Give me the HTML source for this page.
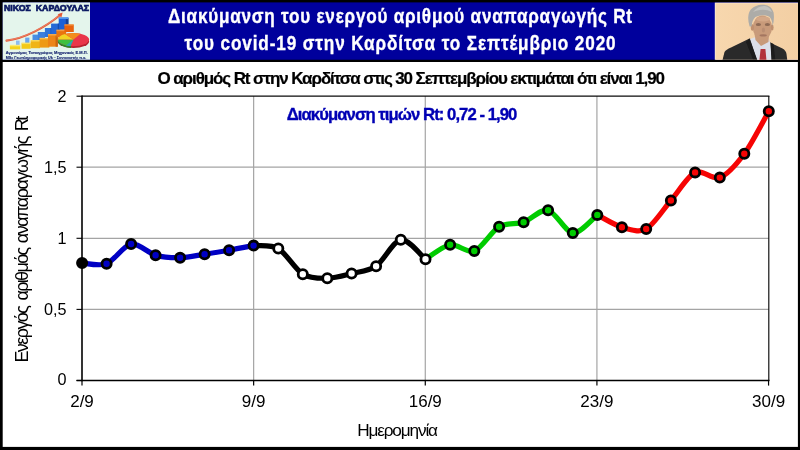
<!DOCTYPE html>
<html><head><meta charset="utf-8"><title>Rt</title>
<style>
html,body{margin:0;padding:0;background:#000;}
body{width:800px;height:450px;overflow:hidden;font-family:"Liberation Sans",sans-serif;}
svg{display:block;}
text{font-family:"Liberation Sans",sans-serif;}
</style></head><body>
<svg width="800" height="450" viewBox="0 0 800 450" style="opacity:0.999">
<rect x="0" y="0" width="800" height="450" fill="#000"/>
<!-- header -->
<rect x="2.7" y="2.4" width="795.2" height="57.35" fill="#00009c"/>
<!-- chart area -->
<rect x="2.7" y="62" width="795.2" height="384.9" fill="#fff"/>
<g id="logo">
<defs><filter id="lb" x="-5%" y="-5%" width="110%" height="110%"><feGaussianBlur stdDeviation="0.35"/></filter></defs>
<rect x="2.7" y="2.4" width="87.3" height="57.3" fill="#e4f5ec"/>
<text x="3.9" y="11.3" font-size="9.2" font-weight="bold" fill="#0a1862" stroke="#0a1862" stroke-width="0.7" textLength="85.2" lengthAdjust="spacingAndGlyphs" xml:space="preserve">ΝΙΚΟΣ  ΚΑΡΔΟΥΛΑΣ</text>
<g filter="url(#lb)">
<!-- back row blue bars -->
<rect x="16.0" y="40.6" width="3.6" height="5" fill="#8cbcf0"/>
<rect x="25.2" y="37.6" width="4.2" height="6" fill="#6aa6ec"/>
<rect x="32.5" y="34.6" width="6" height="7" fill="#4a8ee4"/>
<rect x="37.8" y="32" width="7.2" height="8" fill="#3b80de"/>
<rect x="44.9" y="28" width="8" height="9" fill="#2f74da"/>
<rect x="50.6" y="28" width="2.3" height="9" fill="#1c4fb0"/>
<rect x="51.1" y="23.6" width="9" height="10.5" fill="#2668d6"/>
<rect x="57.8" y="23.6" width="2.3" height="10.5" fill="#18469e"/>
<rect x="58.7" y="17.8" width="9.7" height="12" fill="#1f60d6"/>
<rect x="65.8" y="17.8" width="2.6" height="12" fill="#163f96"/>
<rect x="58.7" y="17.2" width="9.7" height="1.8" fill="#4f94ee"/>
<!-- front row bars -->
<rect x="9.9" y="45.6" width="10.4" height="3.8" fill="#f4d41a"/>
<rect x="9.9" y="44.8" width="10.4" height="1.5" fill="#fbea72"/>
<rect x="21.5" y="43.4" width="9.2" height="5.4" fill="#f3ca18"/>
<rect x="21.5" y="42.6" width="9.2" height="1.5" fill="#fae264"/>
<rect x="30.7" y="40.8" width="9.3" height="7.4" fill="#f0b416"/>
<rect x="30.7" y="40" width="9.3" height="1.5" fill="#f8d65a"/>
<rect x="39.6" y="38.6" width="9.7" height="9" fill="#ee9a14"/>
<rect x="39.6" y="37.8" width="9.7" height="1.5" fill="#f6be50"/>
<rect x="48" y="34.8" width="9.8" height="11.9" fill="#ec8412"/>
<rect x="55.6" y="34.8" width="2.2" height="11.9" fill="#c8640a"/>
<rect x="48" y="34" width="9.8" height="1.5" fill="#f4a848"/>
<rect x="56.4" y="30.4" width="9.8" height="7" fill="#ea7410"/>
<rect x="56.4" y="29.6" width="9.8" height="1.5" fill="#f29a40"/>
<rect x="64.4" y="25" width="9.4" height="7" fill="#e8620e"/>
<rect x="64.4" y="24.2" width="9.4" height="1.5" fill="#f08a38"/>
<!-- arrow -->
<path d="M6.5 40.6 C24 38.8 46 27 60.4 14.8" fill="none" stroke="#e25a38" stroke-width="2.1" stroke-linecap="round"/>
<path d="M6.5 40.4 C24 38.6 46 26.8 60.4 14.6" fill="none" stroke="#f0907a" stroke-width="0.7" stroke-linecap="round"/>
<path d="M62.6 12.6 L57.6 14.2 L61.4 17.6 Z" fill="#e25a38"/>
<!-- pie -->
<ellipse cx="73.5" cy="41.4" rx="15.6" ry="6.6" fill="#b4202e"/>
<path d="M57.9 39.6 L57.9 41.4 A15.6 6.6 0 0 0 71 47.9 L71 46.1 Z" fill="#278a2c"/>
<ellipse cx="73.5" cy="39.6" rx="15.6" ry="6.6" fill="#e93648"/>
<path d="M73.5 39.6 L57.9 39.6 A15.6 6.6 0 0 0 70.5 46.1 Z" fill="#3cc040"/>
<path d="M73.5 39.6 L57.9 39.6 A15.6 6.6 0 0 1 65 34 Z" fill="#f2d422"/>
<path d="M73.5 39.6 L65 34 A15.6 6.6 0 0 1 80.5 33.7 Z" fill="#f28c1c"/>
<path d="M73.5 39.6 L66 45.4 A15.6 6.6 0 0 0 70.5 46.1 Z" fill="#2aa4b0"/>
</g>
<!-- small text lines -->
<text x="5.8" y="54.2" font-size="3.9" font-weight="bold" fill="#14226e" stroke="#14226e" stroke-width="0.12" font-family="Liberation Serif" textLength="82" lengthAdjust="spacingAndGlyphs">Αγρονόμος Τοπογράφος Μηχανικός Ε.Μ.Π.</text>
<text x="5.8" y="58.5" font-size="3.9" font-weight="bold" fill="#14226e" stroke="#14226e" stroke-width="0.12" font-family="Liberation Serif" textLength="80.4" lengthAdjust="spacingAndGlyphs">MSc Γεωπληροφορικής Uk – Συντονιστής π.κ.</text>
</g>
<g id="photo">
<defs>
<clipPath id="pc"><rect x="714.8" y="2.6" width="83.2" height="57.1"/></clipPath>
<filter id="pb" x="-10%" y="-10%" width="120%" height="120%"><feGaussianBlur stdDeviation="0.7"/></filter>
<linearGradient id="pbg" x1="0" y1="0" x2="1" y2="0"><stop offset="0" stop-color="#f7d7ae"/><stop offset="1" stop-color="#f3cfa4"/></linearGradient>
</defs>
<rect x="714.8" y="2.6" width="83.2" height="57.1" fill="#fbeedd"/><rect x="715.5" y="3.3" width="82.5" height="56.4" fill="url(#pbg)"/>
<g clip-path="url(#pc)"><g filter="url(#pb)">
<!-- suit -->
<path d="M722 62 L724.5 52 Q726 49.5 731 47.5 L749.5 38.5 L757 42 L768 41 L772 43.5 L782.5 48.5 Q786 50.5 786.5 54 L787.5 62 Z" fill="#2b2a2c"/>
<!-- shirt -->
<path d="M750 39 L756 37 L768 38 L770.5 43 L771.5 62 L757.5 62 Z" fill="#dcdfe9"/>
<!-- lapel shadows -->
<path d="M749.5 38.5 L758 62 L754 62 L746 42 Z" fill="#1c1b1d"/>
<path d="M770.5 42.5 L772 62 L775.5 62 L773.5 44 Z" fill="#1c1b1d"/>
<!-- tie -->
<path d="M760.6 49 L765.4 49 L766.6 62 L759.2 62 Z" fill="#b2303a"/>
<!-- neck -->
<path d="M754.5 34 L769 34 L768.5 42 L761 46 L755.5 40 Z" fill="#c89a7a"/>
<!-- face -->
<ellipse cx="762.4" cy="27.6" rx="9.6" ry="12.2" fill="#c89a7a"/>
<ellipse cx="758.4" cy="24.6" rx="2.6" ry="1.5" fill="#8e6a54"/><ellipse cx="767.4" cy="24.6" rx="2.6" ry="1.5" fill="#8e6a54"/><ellipse cx="763.4" cy="30" rx="1.6" ry="2.6" fill="#b98d72"/><ellipse cx="763" cy="19" rx="7" ry="2.6" fill="#d4a888"/>
<ellipse cx="763.2" cy="35.4" rx="3.6" ry="1.1" fill="#a47660"/>
<!-- ears -->
<ellipse cx="752.4" cy="27.5" rx="1.6" ry="3.2" fill="#c09070"/>
<ellipse cx="772.2" cy="27.5" rx="1.4" ry="3" fill="#c09070"/>
<!-- hair -->
<path d="M749.6 26.4 Q746.2 15 751 9.2 Q756.6 3.8 764 4.8 Q771.6 5.6 773.6 12.4 Q774.6 20 772.6 26 Q772.4 19 769 16.4 Q762 13.6 755.4 17 Q752 20 751.6 26.4 Z" fill="#adaca8"/>
<path d="M753 12 Q758 5.5 765 6 Q770 7 772 12 Q766 9 760 10 Q756 10.6 753 12 Z" fill="#c4c3bf"/>
</g></g>
</g>

<g fill="#fff" font-weight="bold" font-size="20.2" stroke="#fff" stroke-width="0.35">
<text transform="translate(168 23.1) scale(0.85 1)" textLength="545.9" lengthAdjust="spacing">Διακύμανση του ενεργού αριθμού αναπαραγωγής Rt</text>
<text transform="translate(184.6 50.1) scale(0.85 1)" textLength="507.1" lengthAdjust="spacing">του covid-19 στην Καρδίτσα το Σεπτέμβριο 2020</text>
</g>
<text x="157.5" y="84.3" font-weight="bold" font-size="17" stroke="#000" stroke-width="0.2" textLength="507.5" lengthAdjust="spacing">Ο αριθμός Rt στην Καρδίτσα στις 30 Σεπτεμβρίου εκτιμάται ότι είναι 1,90</text>
<!-- grid -->
<line x1="253.64" y1="96.00" x2="253.64" y2="380.50" stroke="#a4a4a4" stroke-width="1.2"/>
<line x1="425.28" y1="96.00" x2="425.28" y2="380.50" stroke="#a4a4a4" stroke-width="1.2"/>
<line x1="596.92" y1="96.00" x2="596.92" y2="380.50" stroke="#a4a4a4" stroke-width="1.2"/>
<line x1="82.00" y1="309.40" x2="768.80" y2="309.40" stroke="#a4a4a4" stroke-width="1.2"/>
<line x1="82.00" y1="238.30" x2="768.80" y2="238.30" stroke="#a4a4a4" stroke-width="1.2"/>
<line x1="82.00" y1="167.20" x2="768.80" y2="167.20" stroke="#a4a4a4" stroke-width="1.2"/>

<!-- plot frame -->
<line x1="82" y1="96.2" x2="769.4" y2="96.2" stroke="#0a0a0a" stroke-width="1.25"/>
<line x1="768.8" y1="96" x2="768.8" y2="381" stroke="#0a0a0a" stroke-width="1.15"/>
<line x1="82.0" y1="95.6" x2="82.0" y2="381.2" stroke="#000" stroke-width="1.6"/>
<line x1="76.5" y1="380.5" x2="769.4" y2="380.5" stroke="#000" stroke-width="1.5"/>
<line x1="76.5" y1="380.50" x2="82" y2="380.50" stroke="#000" stroke-width="1.1"/>
<line x1="76.5" y1="309.40" x2="82" y2="309.40" stroke="#000" stroke-width="1.1"/>
<line x1="76.5" y1="238.30" x2="82" y2="238.30" stroke="#000" stroke-width="1.1"/>
<line x1="76.5" y1="167.20" x2="82" y2="167.20" stroke="#000" stroke-width="1.1"/>
<line x1="76.5" y1="96.20" x2="82" y2="96.20" stroke="#000" stroke-width="1.1"/>
<line x1="82.00" y1="380.5" x2="82.00" y2="385.6" stroke="#000" stroke-width="1.2"/>
<line x1="253.64" y1="380.5" x2="253.64" y2="385.6" stroke="#000" stroke-width="1.2"/>
<line x1="425.28" y1="380.5" x2="425.28" y2="385.6" stroke="#000" stroke-width="1.2"/>
<line x1="596.92" y1="380.5" x2="596.92" y2="385.6" stroke="#000" stroke-width="1.2"/>
<line x1="768.56" y1="380.5" x2="768.56" y2="385.6" stroke="#000" stroke-width="1.2"/>

<text x="286.8" y="119.7" font-weight="bold" font-size="16.7" fill="#0000b4" stroke="#0000b4" stroke-width="0.35" textLength="230.6" lengthAdjust="spacing">Διακύμανση τιμών Rt: 0,72 - 1,90</text>
<g fill="#000">
<text x="66.6" y="385.45" text-anchor="end" font-size="16.2">0</text>
<text x="66.6" y="314.50" text-anchor="end" font-size="16.2">0,5</text>
<text x="66.6" y="243.55" text-anchor="end" font-size="16.2">1</text>
<text x="66.6" y="172.60" text-anchor="end" font-size="16.2">1,5</text>
<text x="66.6" y="101.65" text-anchor="end" font-size="16.2">2</text>
<text x="82.00" y="407.4" text-anchor="middle" font-size="17">2/9</text>
<text x="253.64" y="407.4" text-anchor="middle" font-size="17">9/9</text>
<text x="425.28" y="407.4" text-anchor="middle" font-size="17">16/9</text>
<text x="596.92" y="407.4" text-anchor="middle" font-size="17">23/9</text>
<text x="768.56" y="407.4" text-anchor="middle" font-size="17">30/9</text>

<text x="357.2" y="435.7" font-size="17.2" textLength="80.8" lengthAdjust="spacing">Ημερομηνία</text>
<g font-size="18">
<text transform="translate(27.6 362.6) rotate(-90)" textLength="57.6" lengthAdjust="spacing">Ενεργός</text>
<text transform="translate(27.5 300.6) rotate(-90)" textLength="53.8" lengthAdjust="spacing">αριθμός</text>
<text transform="translate(27.5 243.3) rotate(-90)" textLength="107.8" lengthAdjust="spacing">αναπαραγωγής</text>
<text transform="translate(27.5 131.3) rotate(-90)" textLength="15.6" lengthAdjust="spacing">Rt</text>
</g>
</g>
<!-- series -->
<path d="M597.30 214.90 C600.99 216.74 614.56 225.08 621.90 227.20 C629.24 229.31 638.85 233.00 646.20 229.00 C653.55 225.00 663.56 208.99 670.90 200.50 C678.24 192.01 687.76 175.83 695.10 172.40 C702.43 168.96 712.42 180.39 719.80 177.60 C727.18 174.81 736.95 163.76 744.30 153.80 C751.65 143.84 765.12 117.59 768.80 111.20" fill="none" stroke="#f60404" stroke-width="5.2" stroke-linecap="round" stroke-linejoin="round"/>
<path d="M425.50 259.20 C429.19 257.02 442.78 245.93 450.10 244.70 C457.42 243.47 466.95 253.70 474.30 251.00 C481.65 248.30 491.71 231.02 499.10 226.70 C506.50 222.38 516.25 224.67 523.60 222.20 C530.95 219.72 540.72 208.58 548.10 210.20 C555.48 211.82 565.42 232.30 572.80 233.00 C580.18 233.70 593.62 217.61 597.30 214.90" fill="none" stroke="#00cc00" stroke-width="5.2" stroke-linecap="round" stroke-linejoin="round"/>
<path d="M253.60 245.60 C257.31 246.03 270.92 244.21 278.30 248.50 C285.68 252.79 295.45 269.75 302.80 274.20 C310.15 278.65 319.98 278.31 327.30 278.20 C334.62 278.09 344.28 275.30 351.60 273.50 C358.92 271.70 368.72 271.27 376.10 266.20 C383.48 261.13 393.39 240.75 400.80 239.70 C408.21 238.65 421.80 256.27 425.50 259.20" fill="none" stroke="#000" stroke-width="5.2" stroke-linecap="round" stroke-linejoin="round"/>
<path d="M82.10 263.00 C85.77 263.11 99.25 266.55 106.60 263.70 C113.95 260.85 123.75 245.28 131.10 244.00 C138.45 242.72 148.25 253.14 155.60 255.20 C162.95 257.25 172.75 257.85 180.10 257.70 C187.45 257.55 197.25 255.32 204.60 254.20 C211.95 253.07 221.75 251.49 229.10 250.20 C236.45 248.91 249.93 246.29 253.60 245.60" fill="none" stroke="#0000c4" stroke-width="5.2" stroke-linecap="round" stroke-linejoin="round"/>
<circle cx="621.90" cy="227.20" r="4.6" fill="#f60404" stroke="#000" stroke-width="2.8"/>
<circle cx="646.20" cy="229.00" r="4.6" fill="#f60404" stroke="#000" stroke-width="2.8"/>
<circle cx="670.90" cy="200.50" r="4.6" fill="#f60404" stroke="#000" stroke-width="2.8"/>
<circle cx="695.10" cy="172.40" r="4.6" fill="#f60404" stroke="#000" stroke-width="2.8"/>
<circle cx="719.80" cy="177.60" r="4.6" fill="#f60404" stroke="#000" stroke-width="2.8"/>
<circle cx="744.30" cy="153.80" r="4.6" fill="#f60404" stroke="#000" stroke-width="2.8"/>
<circle cx="768.80" cy="111.20" r="4.6" fill="#f60404" stroke="#000" stroke-width="2.8"/>
<circle cx="450.10" cy="244.70" r="4.6" fill="#00cc00" stroke="#000" stroke-width="2.8"/>
<circle cx="474.30" cy="251.00" r="4.6" fill="#00cc00" stroke="#000" stroke-width="2.8"/>
<circle cx="499.10" cy="226.70" r="4.6" fill="#00cc00" stroke="#000" stroke-width="2.8"/>
<circle cx="523.60" cy="222.20" r="4.6" fill="#00cc00" stroke="#000" stroke-width="2.8"/>
<circle cx="548.10" cy="210.20" r="4.6" fill="#00cc00" stroke="#000" stroke-width="2.8"/>
<circle cx="572.80" cy="233.00" r="4.6" fill="#00cc00" stroke="#000" stroke-width="2.8"/>
<circle cx="597.30" cy="214.90" r="4.6" fill="#00cc00" stroke="#000" stroke-width="2.8"/>
<circle cx="278.30" cy="248.50" r="4.6" fill="#fff" stroke="#000" stroke-width="2.8"/>
<circle cx="302.80" cy="274.20" r="4.6" fill="#fff" stroke="#000" stroke-width="2.8"/>
<circle cx="327.30" cy="278.20" r="4.6" fill="#fff" stroke="#000" stroke-width="2.8"/>
<circle cx="351.60" cy="273.50" r="4.6" fill="#fff" stroke="#000" stroke-width="2.8"/>
<circle cx="376.10" cy="266.20" r="4.6" fill="#fff" stroke="#000" stroke-width="2.8"/>
<circle cx="400.80" cy="239.70" r="4.6" fill="#fff" stroke="#000" stroke-width="2.8"/>
<circle cx="425.50" cy="259.20" r="4.6" fill="#fff" stroke="#000" stroke-width="2.8"/>
<circle cx="106.60" cy="263.70" r="4.6" fill="#0000c4" stroke="#000" stroke-width="2.8"/>
<circle cx="131.10" cy="244.00" r="4.6" fill="#0000c4" stroke="#000" stroke-width="2.8"/>
<circle cx="155.60" cy="255.20" r="4.6" fill="#0000c4" stroke="#000" stroke-width="2.8"/>
<circle cx="180.10" cy="257.70" r="4.6" fill="#0000c4" stroke="#000" stroke-width="2.8"/>
<circle cx="204.60" cy="254.20" r="4.6" fill="#0000c4" stroke="#000" stroke-width="2.8"/>
<circle cx="229.10" cy="250.20" r="4.6" fill="#0000c4" stroke="#000" stroke-width="2.8"/>
<circle cx="253.60" cy="245.60" r="4.6" fill="#0000c4" stroke="#000" stroke-width="2.8"/>
<circle cx="82.10" cy="263.00" r="4.6" fill="#000" stroke="#000" stroke-width="2.8"/>

</svg>
</body></html>
